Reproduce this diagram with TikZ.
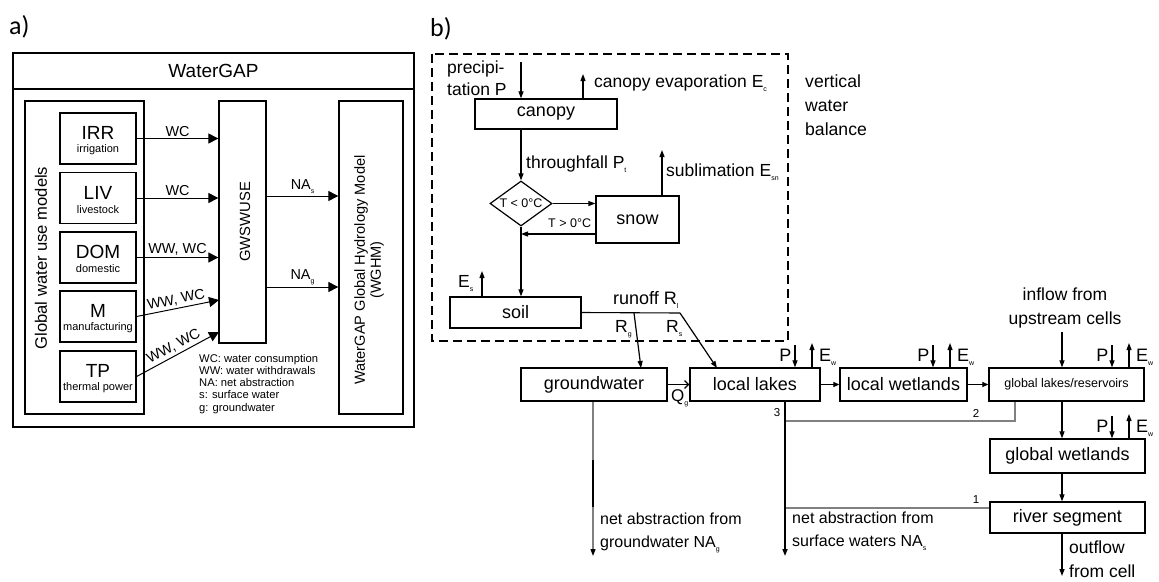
\documentclass[tikz,border=0pt]{standalone}
\usepackage{fontspec}
\setmainfont{Liberation Sans}
\newfontfamily\panelfont{Carlito}
\usetikzlibrary{arrows.meta,shapes.geometric}
\newcommand{\fsz}[1]{\fontsize{#1}{#1}\selectfont}
\newcommand{\lowsub}[1]{\raisebox{-4pt}{\fontsize{7}{7}\selectfont #1}}
% precipitation in / evaporation out above a storage box
% #1 box node, #2 name prefix, #3 x of the P arrow, #4 y of the box top
\newcommand{\precipEvap}[4]{%
  \coordinate (#2Ptop) at (#3,#4-23);
  \coordinate (#2Etop) at (#3+17,#4-25);
  \draw[arrB] (#2Ptop) -- (#2Ptop |- #1.north);
  \draw[arrB] (#2Etop |- #1.north) -- (#2Etop);
  \node[lbl, anchor=base east, font=\fsz{18}] (#2P) at (#3-3.5,#4-7) {P};
  \node[lbl, anchor=base west, font=\fsz{18}] (#2E) at (#3+24,#4-7) {E\lowsub{w}};
}
\begin{document}
\begin{tikzpicture}[x=1pt,y=-1pt,
  box/.style={draw, line width=1.3pt, inner sep=0pt},
  lbl/.style={inner sep=0pt},
  alab/.style={lbl, font=\fsz{14.4}, above=1.5pt},
  arrA/.style={line width=1pt, -{Triangle[length=10pt,width=10pt]}},
  arrB/.style={line width=1.2pt, -{Triangle[length=7pt,width=5pt]}},
  arrS/.style={line width=1.2pt, -{Triangle[length=6pt,width=5pt]}},
  faint/.style={line width=1.2pt, draw=black!50},
  txt/.style={lbl, anchor=base west, font=\fsz{17.5}},
]
\useasboundingbox (0,0) rectangle (1159,581);

% ================= panel a: WaterGAP structure =================
\node[lbl, anchor=base west, font=\panelfont\fsz{26}] (tagA) at (9,34) {a)};
\node[box, line width=1.5pt, minimum width=401pt, minimum height=374pt] (outer) at (213.5,240) {};
\node[box, line width=1.5pt, minimum width=401pt, minimum height=36pt, font=\fsz{19}] (head) at (213.5,71) {WaterGAP};

\node[box, minimum width=119pt, minimum height=313pt] (models) at (84.5,257.5) {};
\node[lbl, rotate=90, font=\fsz{16.6}] (modelsT) at (41,258) {Global water use models};

\foreach \n/\t/\s/\y in {irr/IRR/irrigation/138.5, liv/LIV/livestock/198,
    dom/DOM/domestic/257.5, man/M/manufacturing/316.5, tp/TP/thermal power/376.5} {
  \node[box, minimum width=76pt, minimum height=51pt] (\n) at (98,\y) {};
  \node[lbl, font=\fsz{19}] (\n-t) at (98,\y-5.5) {\t};
  \node[lbl, font=\fsz{11}] (\n-s) at (98,\y+11.5) {\s};
}

\node[box, minimum width=47pt, minimum height=242pt] (gws) at (242.5,222) {};
\node[lbl, rotate=90, font=\fsz{14.8}] (gwsT) at (245,222) {GWSWUSE};
\node[box, minimum width=64pt, minimum height=313pt] (wghm) at (371,257.5) {};
\node[lbl, rotate=90, align=center, font=\fontsize{14.6}{16}\selectfont] (wghmT) at (369,270)
  {WaterGAP Global Hydrology Model\\(WGHM)};

\draw[arrA] (irr.east) -- (irr.east -| gws.west) node[alab, midway] (irrL) {WC};
\draw[arrA] (liv.east) -- (liv.east -| gws.west) node[alab, midway] (livL) {WC};
\draw[arrA] (dom.east) -- (dom.east -| gws.west) node[alab, midway, above=0pt] (domL) {WW, WC};
\coordinate (manIn) at (219,300);
\coordinate (tpIn) at (219,332);
\draw[arrA] (man.east) -- (manIn) node[alab, midway, sloped, above=0.5pt] (manL) {WW, WC};
\draw[arrA] (tp.east) -- (tpIn) node[alab, midway, sloped, above=1pt] (tpL) {WW, WC};

\coordinate (nasOut) at ([yshift=26pt]gws.east);
\coordinate (nagOut) at ([yshift=-65pt]gws.east);
\draw[arrA] (nasOut) -- (nasOut -| wghm.west) node[alab, midway] (nasL) {NA\lowsub{s}};
\draw[arrA] (nagOut) -- (nagOut -| wghm.west) node[alab, midway] (nagL) {NA\lowsub{g}};

\foreach \i/\t in {0/WC: water consumption, 1/WW: water withdrawals,
    2/NA: net abstraction, 3/s: surface water, 4/g: groundwater}
  \node[lbl, anchor=base west, font=\fsz{11.2}] (key\i) at (199,362+12.25*\i) {\t};

% ================= panel b: water flows in a grid cell =================
\node[lbl, anchor=base west, font=\panelfont\fsz{26}] (tagB) at (430,36) {b)};
% vertical water balance frame
\draw[line width=1.3pt, dash pattern=on 9pt off 5pt] (432,54) rectangle (788,341);
\node[lbl, anchor=base west, font=\fsz{17.6}] (vwb1) at (805,87) {vertical};
\node[lbl, anchor=base west, font=\fsz{17.6}] (vwb2) at (805,111) {water};
\node[lbl, anchor=base west, font=\fsz{17.6}] (vwb3) at (805,135) {balance};

\node[txt] (prec1) at (447,73) {precipi-};
\node[txt] (prec2) at (447,95) {tation P};
\node[box, minimum width=142pt, minimum height=30pt, font=\fsz{18}] (canopy) at (546,114) {canopy};
\coordinate (precTop) at (521,62);
\draw[arrB] (precTop) -- (precTop |- canopy.north);
\coordinate (evapTop) at (583,74);
\draw[arrB] (evapTop |- canopy.north) -- (evapTop);
\node[txt] (evapL) at (594,87) {canopy evaporation E\lowsub{c}};

\node[draw, diamond, line width=1.2pt, inner sep=0pt, aspect=1.38, minimum width=62pt,
  minimum height=45pt, font=\fsz{12.5}] (temp) at (521,203.5) {T < 0°C};
\draw[arrB] (canopy.south -| temp.north) -- (temp.north);
\node[txt] (thrL) at (526,168) {throughfall P\lowsub{t}};

\node[box, minimum width=83pt, minimum height=47pt, font=\fsz{18}] (snow) at (637.5,219.5) {snow};
\draw[arrB] (temp.east) -- (temp.east -| snow.west);
\coordinate (meltIn) at (521,234);
\draw[arrB] (meltIn -| snow.west) -- (meltIn);
\node[lbl, anchor=base west, font=\fsz{12.5}] (meltL) at (548,227) {T > 0°C};
\coordinate (sublTop) at (662,150);
\draw[arrB] (sublTop |- snow.north) -- (sublTop);
\node[txt] (sublL) at (666,176) {sublimation E\lowsub{sn}};

\node[box, minimum width=131pt, minimum height=31pt, font=\fsz{18}] (soil) at (515.5,312.5) {soil};
\draw[arrB] (temp.south) -- (temp.south |- soil.north);
\coordinate (esTop) at (482,271);
\draw[arrB] (esTop |- soil.north) -- (esTop);
\node[txt] (esL) at (458,287) {E\lowsub{s}};

% storages of the lateral water balance
\node[box, minimum width=146pt, minimum height=33pt, font=\fsz{18}] (gw) at (594,384.5) {groundwater};
\node[box, minimum width=130pt, minimum height=33pt, font=\fsz{18}] (ll) at (755,384.5) {local lakes};
\node[box, minimum width=127pt, minimum height=33pt, font=\fsz{18}] (lw) at (903.5,384.5) {local wetlands};
\node[box, minimum width=155pt, minimum height=33pt, font=\fsz{12.5}] (gl) at (1066.5,384.5) {global lakes/reservoirs};
\node[box, minimum width=155pt, minimum height=34pt, font=\fsz{18}] (gwl) at (1067.5,456) {global wetlands};
\node[box, minimum width=155pt, minimum height=31pt, font=\fsz{18}] (riv) at (1067.5,517.5) {river segment};

% runoff split
\coordinate (rgFork) at (634,313);
\coordinate (rBend) at (680,313);
\coordinate (rgIn) at (641,368);
\coordinate (rsIn) at (717,368);
\draw[line width=1.1pt] (soil.east) -- (rBend);
\draw[arrB] (rBend) -- (rsIn);
\draw[arrB] (rgFork) -- (rgIn);
\node[txt, font=\fsz{18}] (runL) at (613,304) {runoff R\lowsub{l}};
\node[txt] (rgL) at (615,332) {R\lowsub{g}};
\node[txt] (rsL) at (666,332) {R\lowsub{s}};

\draw[line width=1.2pt, -{Straight Barb[length=4pt,width=8pt]}] (gw.east) -- (ll.west);
\node[lbl, anchor=base west, font=\fsz{17}] (qgL) at (671,401) {Q\lowsub{g}};
\draw[arrS] (ll.east) -- (lw.west);
\draw[arrS] (lw.east) -- (gl.west);

\precipEvap{ll}{ll}{795}{368}
\precipEvap{lw}{lw}{933}{368}
\precipEvap{gl}{gl}{1112}{368}
\precipEvap{gwl}{gwl}{1112}{439}

\coordinate (inTop) at (1062,332);
\draw[arrB] (inTop) -- (inTop |- gl.north);
\draw[arrB] (inTop |- gl.south) -- (inTop |- gwl.north);
\draw[arrB] (inTop |- gwl.south) -- (inTop |- riv.north);
\coordinate (outEnd) at (1062,576);
\draw[arrB] (outEnd |- riv.south) -- (outEnd);
\node[lbl, anchor=base, font=\fsz{17.5}] (in1) at (1065,300) {inflow from};
\node[lbl, anchor=base, font=\fsz{17.5}] (in2) at (1065,324) {upstream cells};
\node[txt] (out1) at (1069,553) {outflow};
\node[txt] (out2) at (1069,577) {from cell};

% net abstraction from surface waters, with its three sources
\coordinate (nasEnd) at (785,556);
\coordinate (j2) at (785,421);
\coordinate (j1) at (785,508);
\coordinate (glTap) at (1015,401);
\draw[faint] (glTap |- gl.south) -- (glTap |- j2) -- (j2);
\draw[faint] (j1 -| riv.west) -- (j1);
\draw[line width=1.5pt, -{Triangle[length=7pt,width=5pt]}] (nasEnd |- ll.south) -- (nasEnd);
\node[lbl, anchor=base, font=\fsz{11.5}] (n3) at (777,416) {3};
\node[lbl, anchor=base, font=\fsz{11.5}] (n2) at (976,417) {2};
\node[lbl, anchor=base, font=\fsz{11.5}] (n1) at (976,503) {1};
\node[txt, font=\fsz{16}] (nasL1) at (792,523) {net abstraction from};
\node[txt, font=\fsz{16}] (nasL2) at (792,546) {surface waters NA\lowsub{s}};

% net abstraction from groundwater
\coordinate (nagEnd) at (593,556);
\coordinate (nagA) at (593,460);
\coordinate (nagB) at (593,507);
\draw[faint, -{Triangle[length=7pt,width=5pt,color=black]}] (nagEnd |- gw.south) -- (nagEnd);
\draw[line width=1.5pt] (nagA) -- (nagB);
\node[txt, font=\fsz{16}] (nagL1) at (600,524) {net abstraction from};
\node[txt, font=\fsz{16}] (nagL2) at (600,547) {groundwater NA\lowsub{g}};
\end{tikzpicture}
\end{document}
